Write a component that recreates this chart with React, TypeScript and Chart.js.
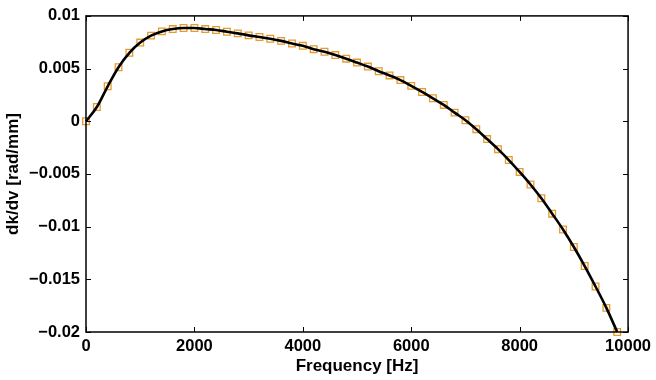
import React, { useEffect, useRef } from "react";
import { Chart, registerables } from "chart.js";

Chart.register(...registerables);

const frequencies = [
  0, 200, 400, 600, 800, 1000, 1200, 1400, 1600, 1800,
  2000, 2200, 2400, 2600, 2800, 3000, 3200, 3400, 3600, 3800,
  4000, 4200, 4400, 4600, 4800, 5000, 5200, 5400, 5600, 5800,
  6000, 6200, 6400, 6600, 6800, 7000, 7200, 7400, 7600, 7800,
  8000, 8200, 8400, 8600, 8800, 9000, 9200, 9400, 9600, 9800,
];

const dkdv = [
  0.0, 0.00135, 0.00332, 0.00513, 0.0065, 0.00747, 0.00813, 0.00853, 0.00875, 0.00885,
  0.00885, 0.00875, 0.00866, 0.0085, 0.00834, 0.00815, 0.008, 0.00783, 0.00763, 0.00738,
  0.00716, 0.00684, 0.0066, 0.00628, 0.00594, 0.00557, 0.00519, 0.00475, 0.00435, 0.00391,
  0.00336, 0.00278, 0.00218, 0.00155, 0.00082, 0.0001, -0.00075, -0.00169, -0.00265, -0.00368,
  -0.00481, -0.006, -0.00731, -0.00877, -0.01027, -0.01193, -0.01374, -0.01568, -0.01771, -0.02,
];

const xTicks = [0, 2000, 4000, 6000, 8000, 10000];
const yTicks = [0.01, 0.005, 0, -0.005, -0.01, -0.015, -0.02];

const xTitle = "Frequency [Hz]";
const yTitle = "dk/dv [rad/mm]";

const FONT = "'Liberation Sans', Arial, sans-serif";

const boxPlugin = {
  id: "boxTicks",
  afterDraw(chart: any) {
    const { ctx, chartArea } = chart;
    const { left, right, top, bottom } = chartArea;
    const xs = chart.scales.x;
    const ys = chart.scales.y;
    const len = 5;
    ctx.save();
    ctx.strokeStyle = "#000";
    ctx.lineWidth = 1;
    ctx.beginPath();
    xTicks.forEach((t) => {
      const px = Math.round(xs.getPixelForValue(t)) + 0.5;
      ctx.moveTo(px, bottom);
      ctx.lineTo(px, bottom - len);
      ctx.moveTo(px, top);
      ctx.lineTo(px, top + len);
    });
    yTicks.forEach((t) => {
      const py = Math.round(ys.getPixelForValue(t)) + 0.5;
      ctx.moveTo(left, py);
      ctx.lineTo(left + len, py);
      ctx.moveTo(right, py);
      ctx.lineTo(right - len, py);
    });
    ctx.stroke();
    ctx.lineWidth = 1.5;
    ctx.strokeRect(left, top, right - left, bottom - top);
    ctx.restore();
  },
};

export default function App() {
  const ref = useRef<HTMLCanvasElement | null>(null);

  useEffect(() => {
    if (!ref.current) return;
    const points = frequencies.map((f, i) => ({ x: f, y: dkdv[i] }));
    const chart = new Chart(ref.current, {
      type: "scatter",
      data: {
        datasets: [
          {
            label: "curve",
            data: points,
            showLine: true,
            borderColor: "#000",
            borderWidth: 2.6,
            pointRadius: 0,
            cubicInterpolationMode: "monotone",
            order: 0,
            clip: false as any,
          },
          {
            label: "points",
            data: points,
            showLine: false,
            pointStyle: "rect",
            pointRadius: 4.7,
            pointBorderWidth: 1.3,
            pointBorderColor: "#E59B2E",
            pointBackgroundColor: "rgba(0,0,0,0)",
            order: 1,
            clip: false as any,
          },
        ],
      },
      options: {
        responsive: false,
        animation: false,
        events: [],
        layout: { padding: { left: 0, right: 27, top: 12, bottom: 0 } },
        plugins: { legend: { display: false }, tooltip: { enabled: false } },
        scales: {
          x: {
            type: "linear",
            min: 0,
            max: 10000,
            grid: { display: false, drawTicks: false },
            border: { display: false },
            afterBuildTicks: (scale: any) => {
              scale.ticks = xTicks.map((v) => ({ value: v }));
            },
            afterFit: (scale: any) => {
              scale.height = 48;
            },
            ticks: {
              padding: 5,
              color: "#000",
              font: { family: FONT, size: 16.5, weight: "bold" },
              maxRotation: 0,
              callback: (v: any) => String(v),
            },
            title: {
              display: true,
              text: xTitle,
              color: "#000",
              font: { family: FONT, size: 17, weight: "bold" },
              padding: { top: 0, bottom: 3 },
            },
          },
          y: {
            type: "linear",
            min: -0.02,
            max: 0.01,
            grid: { display: false, drawTicks: false },
            border: { display: false },
            afterBuildTicks: (scale: any) => {
              scale.ticks = yTicks.map((v) => ({ value: v }));
            },
            afterFit: (scale: any) => {
              scale.width = 86;
            },
            ticks: {
              padding: 6,
              color: "#000",
              font: { family: FONT, size: 16.5, weight: "bold" },
              callback: (v: any) => {
                const r = Math.round(Number(v) * 1000) / 1000;
                const s = String(Math.abs(r));
                return r < 0 ? "\u2212" + s : s;
              },
            },
            title: {
              display: true,
              text: yTitle,
              color: "#000",
              font: { family: FONT, size: 17, weight: "bold" },
              padding: { top: 3, bottom: 0 },
            },
          },
        },
      },
      plugins: [boxPlugin],
    });
    return () => chart.destroy();
  }, []);

  return (
    <div style={{ position: "fixed", left: 0, top: 0, width: 656, height: 380, background: "#fff" }}>
      <canvas ref={ref} width={656} height={380} style={{ display: "block" }} />
    </div>
  );
}
